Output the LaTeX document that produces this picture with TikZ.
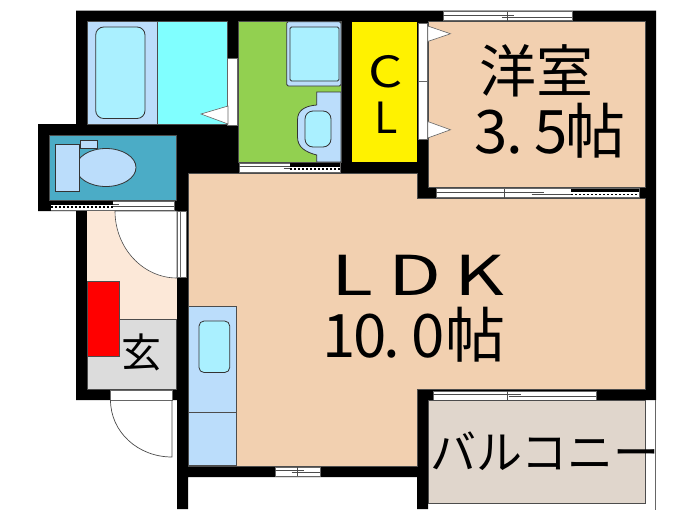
\documentclass[tikz,border=0pt]{standalone}
\usepackage{fontspec}
\setmainfont{Noto Sans CJK JP}
\newfontfamily\widefont[FakeStretch=1.25]{Noto Sans CJK JP}
\newfontfamily\ldkfont[FakeStretch=1.4]{Noto Sans CJK JP}
\definecolor{ldkcol}{HTML}{F2D0B0}
\definecolor{panelcol}{HTML}{BBDDFB}
\definecolor{basincol}{HTML}{AAF0FF}
\definecolor{bathcol}{HTML}{80FFFF}
\definecolor{washcol}{HTML}{92D050}
\definecolor{wccol}{HTML}{4BACC6}
\definecolor{hallcol}{HTML}{FCE8D8}
\definecolor{porchcol}{HTML}{DCDCDC}
\definecolor{balccol}{HTML}{E0D6CC}
\begin{document}
\begin{tikzpicture}[
            x=1pt,y=-1pt,
            room/.style={line width=.5pt,draw=black!70},
            fixture/.style={line width=.8pt,draw=black!80},
            glass/.style={line width=.6pt,draw=black!60,fill=white},
            label/.style={inner sep=0pt,align=center,font=\fontsize{#1}{#1}\selectfont},
            label/.default=56
            ]
            \useasboundingbox (0,0) rectangle (700,525);
            \fill[white] (0,0) rectangle (700,525);
            \fill (76,10.5) -- (656,10.5) -- (656,400) -- (428,400) -- (428,509) -- (417,509) -- (417,477) -- (188,477) -- (188,509) -- (177,509) -- (177,400) -- (76,400) -- (76,211) -- (38,211) -- (38,124) -- (76,124) -- cycle;
            \filldraw[room,fill=bathcol] (157,21.7) rectangle (227.7,124);
            \filldraw[room,fill=panelcol] (87,21.7) rectangle (157,124);
            \filldraw[fixture,fill=basincol,rounded corners=8pt] (95.7,27) rectangle (145,118.5);
            \filldraw[glass] (227.7,58) rectangle (237.3,125);
            \filldraw[glass] (228,106) -- (201,114) -- (228,124) -- cycle;
            \filldraw[room,fill=wccol] (49,135.5) rectangle (176.7,200);
            \filldraw[fixture,fill=panelcol] (106,167.5) ellipse (30 and 19);
            \filldraw[fixture,fill=panelcol] (55,144) rectangle (79.5,191);
            \filldraw[fixture,fill=panelcol] (80,140.5) rectangle (97,148);
            \filldraw[room,fill=washcol] (238.3,21.7) rectangle (341,162);
            \filldraw[fixture,fill=panelcol,rounded corners=1.5pt] (286.7,21.7) rectangle (341,86);
            \filldraw[fixture,fill=basincol,rounded corners=1.5pt] (290,27) rectangle (339,81);
            \filldraw[fixture,fill=panelcol] (341,92) -- (316.7,92) -- (316.7,105) .. controls (305,106) and (297.5,110) .. (297.5,120) -- (297.5,137) .. controls (297.5,147) and (305,152) .. (316.7,155) -- (316.7,162) -- (341,162) -- cycle;
            \filldraw[fixture,fill=basincol,rounded corners=8pt] (305,111) rectangle (331,147);
            \fill[yellow] (352,21.7) rectangle (416.7,162);
            \filldraw[room,fill=ldkcol] (428,21.7) rectangle (645,187.3);
            \filldraw[room,fill=ldkcol] (188,173) -- (417,173) -- (417,198) -- (645,198) -- (645,389) -- (417,389) -- (417,466) -- (188,466) -- cycle;
            \filldraw[glass] (418,23) rectangle (427.7,81);
            \filldraw[glass] (418,81) rectangle (427.7,139);
            \foreach \ya/\yb in {26/41.5,121.5/138}
                \filldraw[glass] (427.7,\ya) -- (450.5,{(\ya+\yb)/2}) -- (427.7,\yb) -- cycle;
            \foreach \xa/\xb/\ya in {443/572/11.5,436/639/188.5,433/596/391,275/320/467,51/174/201,239/340/163}
            {
                \filldraw[glass] (\xa,\ya) rectangle (\xb,\ya+9);
                \draw[line width=.7pt,black!70] (\xa,\ya+3.5) -- ({(\xa+\xb)/2+6},\ya+3.5);
                \draw[line width=.7pt,black!70] ({(\xa+\xb)/2-6},\ya+5.5) -- (\xb,\ya+5.5);
            }
            \foreach \xa/\ya in {507/11.5,507/391,297/467,504/188.5}
                \draw[line width=.7pt,black!70] (\xa,\ya) -- (\xa,\ya+9);
            \foreach \xa/\xb/\ya in {571/639/188.5,51/113/201,290/340/163}
            {
                \fill[white] (\xa,\ya) rectangle (\xb,\ya+9);
                \fill (\xa,\ya) rectangle (\xb,\ya+3.5);
                \draw[line width=1.2pt,dash pattern=on 2pt off 2pt] (\xa,\ya+6) -- (\xb,\ya+6);
                \draw[line width=.6pt,black!60] (\xa,\ya+9) -- (\xb,\ya+9);
            }
            \fill[hallcol] (87,211) rectangle (176.7,319);
            \filldraw[room,fill=porchcol] (87,319) rectangle (176.7,389.3);
            \filldraw[line width=.6pt,draw=black!70,fill=white] (115,211) .. controls (115,248) and (143,278) .. (177,278) -- (177,211) -- cycle;
            \filldraw[glass] (177,211) rectangle (186.5,277.5);
            \draw[line width=.5pt,black!60] (180,211) -- (180,277.5);
            \filldraw[room,fill=red] (87,281) rectangle (119.3,356.7);
            \filldraw[glass] (110,390) rectangle (172.3,400);
            \draw[line width=.7pt,black!70] (110.5,400) .. controls (110.5,432) and (138,457) .. (172,457) -- (172,400);
            \filldraw[room,fill=panelcol] (188,306.5) rectangle (236.7,465.3);
            \draw[room] (188,412.7) -- (236.7,412.7);
            \filldraw[fixture,fill=basincol,rounded corners=5pt] (199,321) rectangle (229.7,372.5);
            \filldraw[room,fill=balccol] (428,400) rectangle (645,503.3);
            \draw[line width=.6pt,black!60] (655.5,400) -- (655.5,510);
            \node[label=57] (washitsu) at (536.5,71) {洋室};
            \node[label=60] (washitsuarea) at (550,131) {3\kern-1pt.\kern11pt5\kern-2pt帖};
            \node[label=55] (ldk) at (418,275) {\ldkfont L\kern15pt D\kern13pt K};
            \node[label=60] (ldkarea) at (414,335) {1\kern-3pt0\kern-3pt.\kern12pt0帖};
            \node[label=43] (closet) at (386,94) {\widefont C\\[3pt]L};
            \node[label=40] (genkan) at (141,352) {玄};
            \node[label=46] (balcony) at (545,451) {バルコニー};
        \end{tikzpicture}
\end{document}
